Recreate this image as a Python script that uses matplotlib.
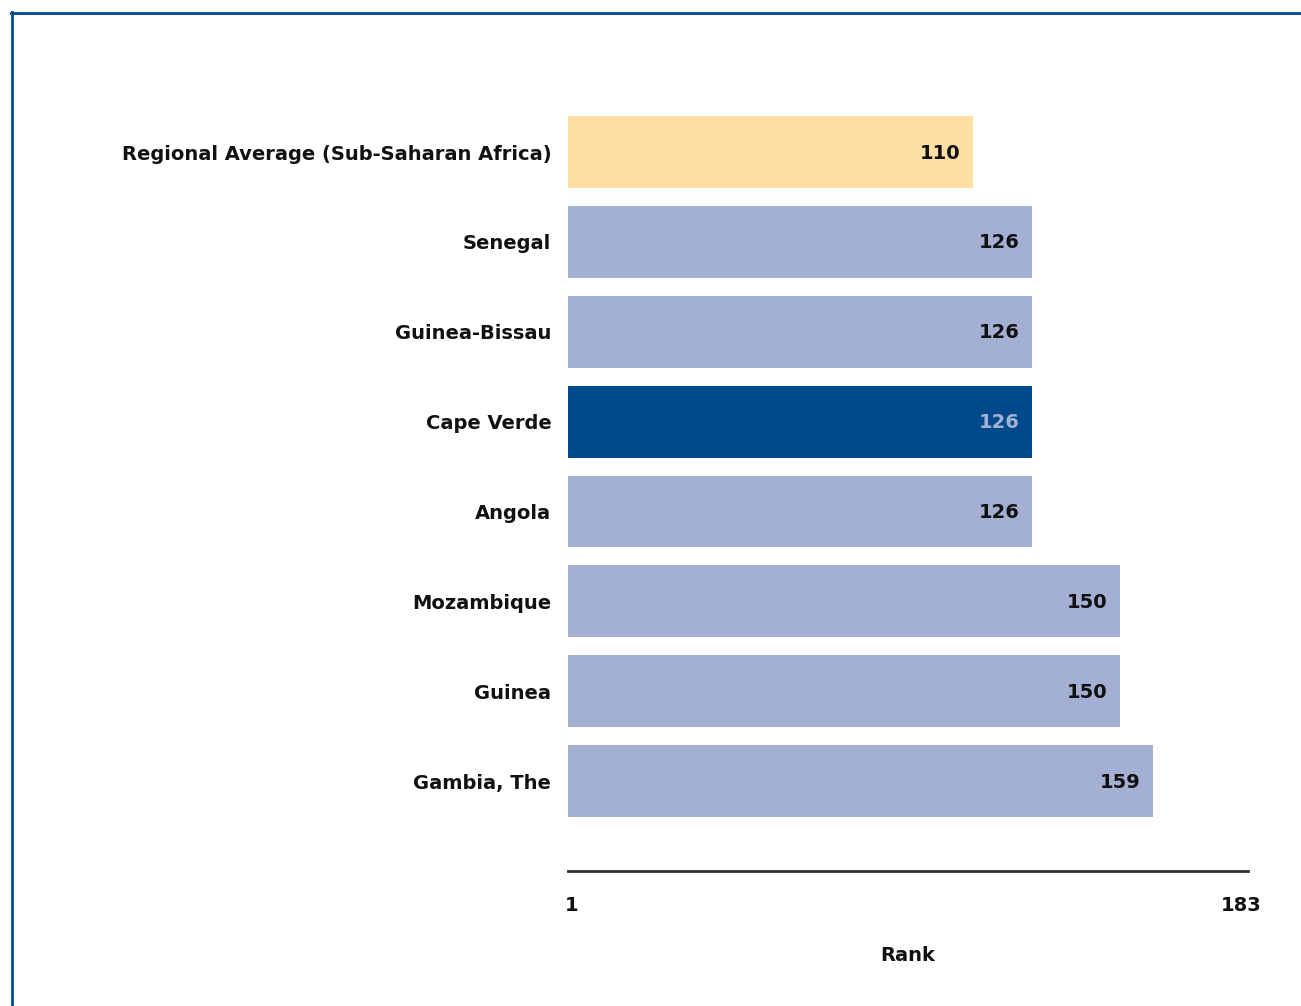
import matplotlib.pyplot as plt
from matplotlib.lines import Line2D

countries = ['Regional Average (Sub-Saharan Africa)', 'Senegal', 'Guinea-Bissau',
             'Cape Verde', 'Angola', 'Mozambique', 'Guinea', 'Gambia, The']
ranks = [110, 126, 126, 126, 126, 150, 150, 159]
bar_colors = ['#FFDFA6', '#A4B0D3', '#A4B0D3', '#004A8C',
              '#A4B0D3', '#A4B0D3', '#A4B0D3', '#A4B0D3']
label_colors = ['#111111', '#111111', '#111111', '#A4B0D3',
                '#111111', '#111111', '#111111', '#111111']
rank_min, rank_max = 1, 183

plt.rcParams['font.family'] = ['DejaVu Sans']
fig = plt.figure(figsize=(13.01, 10.06), dpi=100)
ax = fig.add_axes([0.4366, 0.1342, 0.5227, 0.7664])

y = list(range(len(countries)))
ax.barh(y, ranks, height=0.8, color=bar_colors)
for i, (r, c) in enumerate(zip(ranks, label_colors)):
    ax.text(r - 3.3, i + 0.01, str(r), ha='right', va='center', fontsize=14,
            fontweight='bold', color=c)

ax.set_xlim(0, 184.8)
ax.set_ylim(8.0, -0.58)
ax.set_yticks(y)
ax.set_yticklabels(countries, fontsize=14, fontweight='bold', color='#111111')
ax.tick_params(axis='y', length=0, pad=12)
ax.set_xticks([rank_min, rank_max])
ax.set_xticklabels([str(rank_min), str(rank_max)], fontsize=14, fontweight='bold',
                   color='#111111')
ax.tick_params(axis='x', length=0, pad=18)
ax.set_xlabel('Rank', fontsize=14, fontweight='bold', color='#111111', labelpad=22)

for s in ['top', 'right', 'left']:
    ax.spines[s].set_visible(False)
ax.spines['bottom'].set_color('#333333')
ax.spines['bottom'].set_linewidth(2)

# blue frame at the top and left
fig.add_artist(Line2D([0.0085, 1.0], [0.9856, 0.9856], color='#A9C4E4', lw=1.5,
                      transform=fig.transFigure))
fig.add_artist(Line2D([0.0085, 1.0], [0.9872, 0.9872], color='#004A94', lw=2,
                      transform=fig.transFigure))
fig.add_artist(Line2D([0.0092, 0.0092], [0.0, 0.988], color='#004A94', lw=2,
                      transform=fig.transFigure))

fig.savefig('out.png', dpi=100)
